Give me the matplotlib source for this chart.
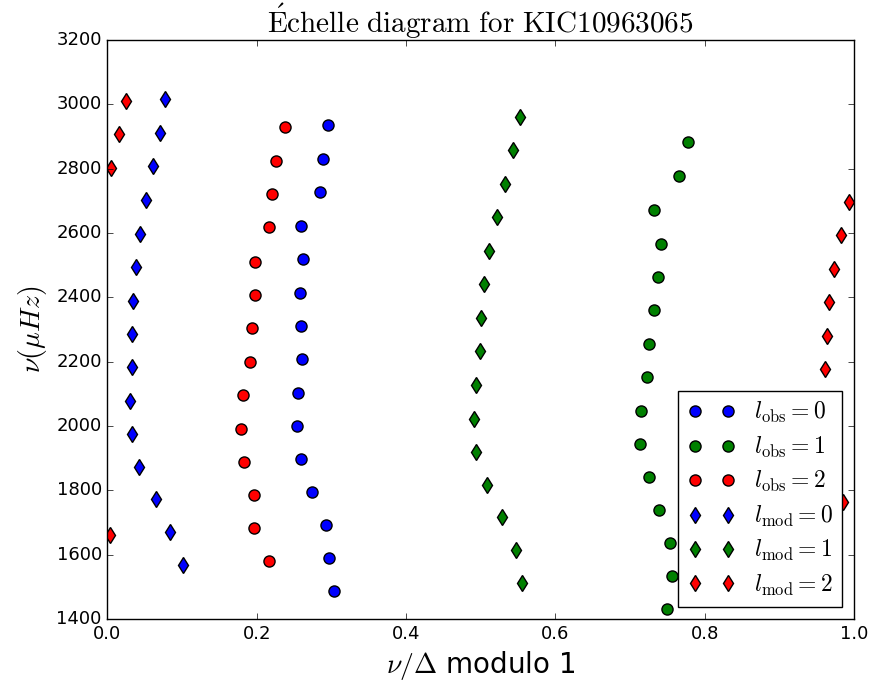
import matplotlib
matplotlib.use('Agg')
import matplotlib.pyplot as plt

# --- DATA ---
obs0_x = [0.296, 0.289, 0.285, 0.259, 0.262, 0.258, 0.259, 0.261, 0.256, 0.254,
          0.259, 0.274, 0.293, 0.297, 0.303]
obs0_y = [2936, 2831, 2727, 2622, 2518, 2415, 2311, 2208, 2103, 1999,
          1896, 1794, 1692, 1589, 1487]

obs1_x = [0.778, 0.765, 0.732, 0.741, 0.738, 0.732, 0.725, 0.723, 0.715, 0.714,
          0.725, 0.739, 0.754, 0.756, 0.749]
obs1_y = [2882, 2777, 2671, 2567, 2463, 2360, 2254, 2152, 2047, 1944,
          1841, 1739, 1636, 1534, 1431]

obs2_x = [0.238, 0.226, 0.221, 0.216, 0.198, 0.198, 0.194, 0.191, 0.182, 0.179,
          0.183, 0.196, 0.197, 0.216]
obs2_y = [2930, 2825, 2721, 2618, 2511, 2407, 2304, 2200, 2095, 1990,
          1888, 1786, 1682, 1581]

mod0_x = [0.077, 0.070, 0.061, 0.052, 0.044, 0.038, 0.034, 0.033, 0.033, 0.030,
          0.033, 0.042, 0.065, 0.084, 0.101]
mod0_y = [3017, 2912, 2808, 2703, 2598, 2494, 2390, 2286, 2183, 2079,
          1975, 1873, 1773, 1670, 1568]

mod1_x = [0.553, 0.543, 0.532, 0.522, 0.511, 0.505, 0.500, 0.499, 0.494, 0.491,
          0.494, 0.509, 0.529, 0.547, 0.555]
mod1_y = [2962, 2858, 2752, 2649, 2543, 2440, 2335, 2233, 2127, 2023,
          1920, 1817, 1717, 1613, 1512]

mod2_x = [0.025, 0.016, 0.005, 0.993, 0.982, 0.973, 0.967, 0.964, 0.961, 0.961,
          0.963, 0.970, 0.985, 0.003]
mod2_y = [3011, 2908, 2803, 2697, 2593, 2487, 2384, 2280, 2177, 2073,
          1969, 1866, 1763, 1662]

plt.style.use('classic')
plt.rcParams['mathtext.fontset'] = 'cm'
plt.rcParams['savefig.facecolor'] = 'white'

fig = plt.figure(figsize=(8.74, 6.89), dpi=100)
ax = fig.add_axes([0.1228, 0.1016, 0.8543, 0.8403])

ms = 8
ax.plot(obs0_x, obs0_y, 'bo', ms=ms, mec='k', mew=1, label=r'$l_{\rm obs} = 0$')
ax.plot(obs1_x, obs1_y, 'go', ms=ms, mec='k', mew=1, label=r'$l_{\rm obs} = 1$')
ax.plot(obs2_x, obs2_y, 'ro', ms=ms, mec='k', mew=1, label=r'$l_{\rm obs} = 2$')
ax.plot(mod0_x, mod0_y, 'bd', ms=ms, mec='k', mew=1, label=r'$l_{\rm mod} = 0$')
ax.plot(mod1_x, mod1_y, 'gd', ms=ms, mec='k', mew=1, label=r'$l_{\rm mod} = 1$')
ax.plot(mod2_x, mod2_y, 'rd', ms=ms, mec='k', mew=1, label=r'$l_{\rm mod} = 2$')

ax.set_xlim(0, 1)
ax.set_ylim(1400, 3200)
ax.tick_params(labelsize=13)
ax.set_xlabel(r'$\nu/\Delta$ modulo 1', fontsize=20)
ax.set_ylabel(r'$\nu (\mu Hz)$', fontsize=20)
ax.set_title(r'$\mathrm{\acute{E}chelle\ diagram\ for\ KIC10963065}$', fontsize=21)

leg = ax.legend(loc='lower right', numpoints=2, fontsize=17,
                labelspacing=0.4, handlelength=2.0)

fig.savefig('out.png', dpi=100)
